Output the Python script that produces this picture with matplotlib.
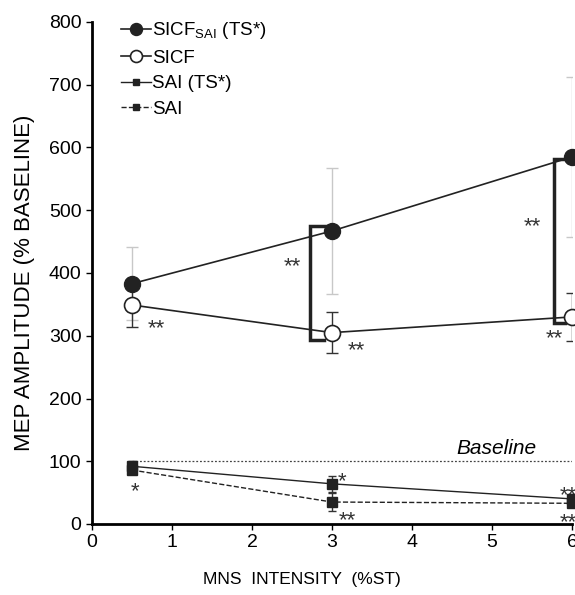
import matplotlib.pyplot as plt

plt.rcParams['font.family'] = ['Liberation Sans', 'DejaVu Sans']

x = [0.5, 3, 6]
sicf_sai = [383, 467, 585]
sicf_sai_err = [58, 101, 127]
sicf = [349, 305, 330]
sicf_err = [35, 33, 38]
sai_ts = [92, 64, 40]
sai_ts_err = [8, 13, 8]
sai = [86, 35, 33]
sai_err = [7, 14, 6]

# asterisk annotations (x, y, text)
stars = [(0.81, 322, "**"), (3.3, 287, "**"), (5.78, 306, "**"),
         (2.5, 421, "**"), (5.51, 485, "**"),
         (0.54, 62, "*"), (3.13, 78, "*"), (3.19, 17, "**"),
         (5.95, 57, "**"), (5.95, 14, "**")]

fig = plt.figure(figsize=(5.75, 5.95), dpi=100)
ax = fig.add_axes([92/575, 1 - 524/595, 480/575, 502/595])

ax.plot([0.5, 6], [100, 100], color='#444444', ls=(0, (1.5, 1.5)), lw=0.9)
ax.text(5.56, 112, "Baseline", style='italic', fontsize=15, ha='right', va='baseline')

ax.errorbar(x, sicf_sai, yerr=sicf_sai_err, fmt='none', ecolor='#c8c8c8', elinewidth=1, capsize=4)
ax.errorbar(x, sicf, yerr=sicf_err, fmt='none', ecolor='#333333', elinewidth=1, capsize=4)
ax.errorbar(x, sai_ts, yerr=sai_ts_err, fmt='none', ecolor='#333333', elinewidth=1, capsize=3)
ax.errorbar(x, sai, yerr=sai_err, fmt='none', ecolor='#333333', elinewidth=1, capsize=3)

ax.plot(x, sicf, '-o', color='#222222', mfc='white', mec='#222222', ms=11.5, mew=1.2, lw=1.2,
        label="SICF", clip_on=False, zorder=4)
ax.plot(x, sicf_sai, '-o', color='#222222', ms=11.5, lw=1.2,
        label="SICF$_{\\mathregular{SAI}}$ (TS*)", clip_on=False, zorder=5)
ax.plot(x, sai_ts, '-s', color='#222222', ms=6.5, lw=1.0, label="SAI (TS*)", clip_on=False, zorder=5)
ax.plot(x, sai, '--s', color='#222222', ms=6.5, lw=1.0, label="SAI", clip_on=False, zorder=5)

# brackets
ax.plot([2.95, 2.73, 2.73, 2.9], [475, 475, 293, 293], color='#222222', lw=2.5, solid_joinstyle='miter')
ax.plot([5.95, 5.77, 5.77, 5.91], [582, 582, 320, 320], color='#222222', lw=2.5, solid_joinstyle='miter')

for sx, sy, s in stars:
    ax.annotate(s, (sx, sy), xytext=(0, -9), textcoords='offset points', fontsize=16,
                ha='center', va='baseline', color='#333333', annotation_clip=False)

handles, labels = ax.get_legend_handles_labels()
order = [1, 0, 2, 3]
ax.legend([handles[i] for i in order], [labels[i] for i in order], loc='upper left',
          bbox_to_anchor=(0.025, 1.037), frameon=False, fontsize=13.5, handlelength=1.6,
          handletextpad=0.05, markerscale=0.75, labelspacing=0.45)

ax.set_xlim(0, 6)
ax.set_ylim(0, 800)
ax.set_xticks(range(7))
ax.set_yticks(range(0, 801, 100))
ax.tick_params(labelsize=14, length=4, width=1, direction='out')
for s in ['top', 'right']:
    ax.spines[s].set_visible(False)
for s in ['left', 'bottom']:
    ax.spines[s].set_linewidth(2)
ax.set_xlabel("MNS  INTENSITY  (%ST)", fontsize=12.5)
ax.set_ylabel("MEP AMPLITUDE (% BASELINE)", fontsize=16)
ax.xaxis.set_label_coords(0.4375, -0.095)
ax.yaxis.set_label_coords(-0.118, 0.48)

fig.savefig("out.png", dpi=100)
